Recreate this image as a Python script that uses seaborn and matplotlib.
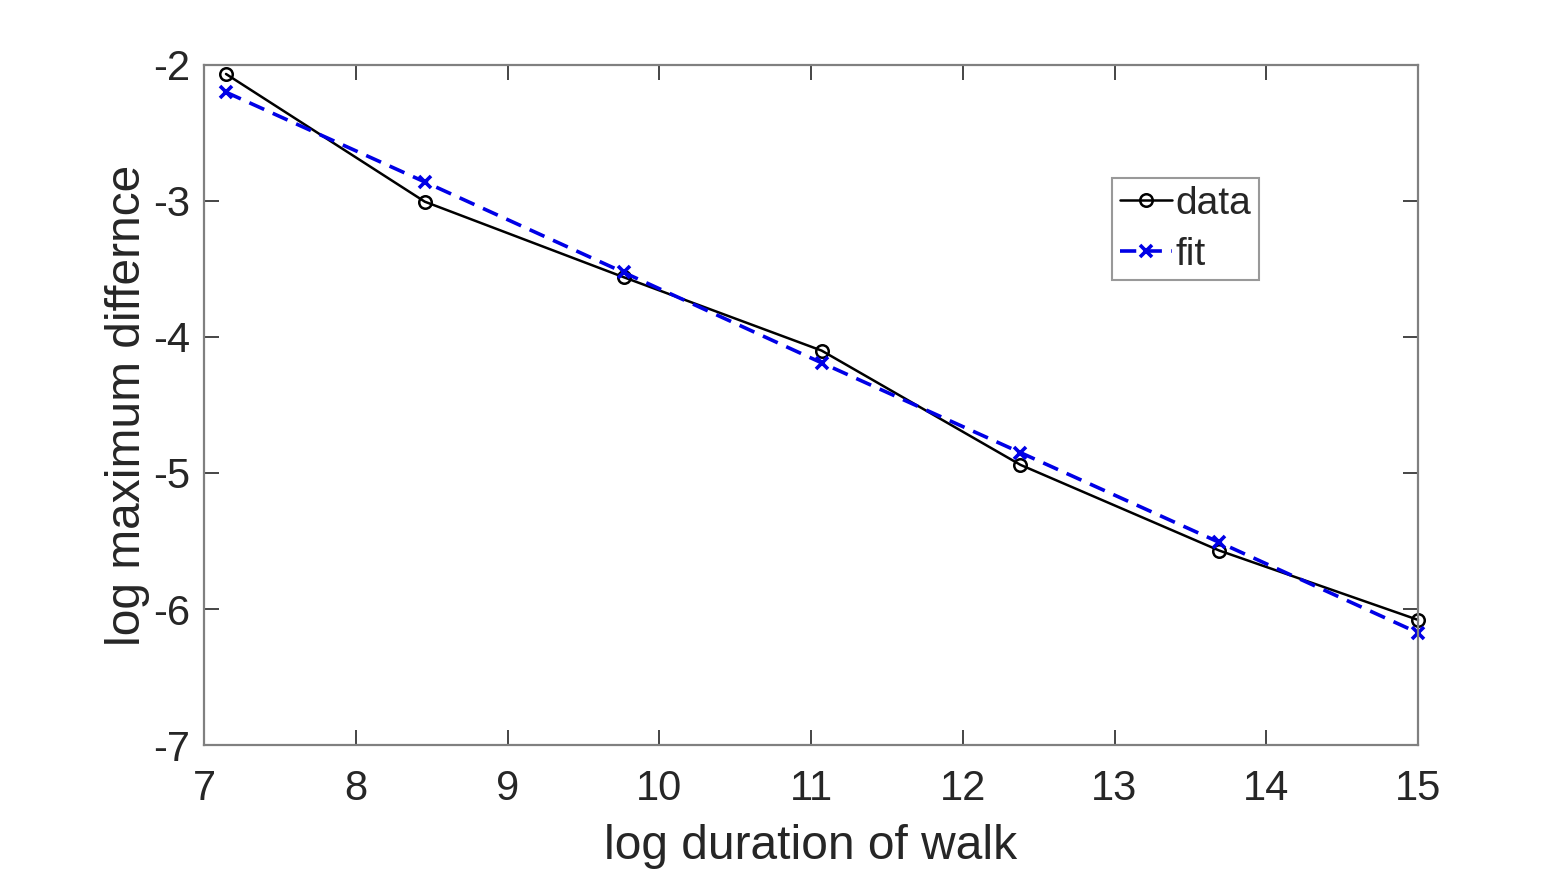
import matplotlib
matplotlib.use("Agg")
import matplotlib.pyplot as plt
import seaborn as sns
import pandas as pd
import numpy as np

x_vals = [7.145, 8.455, 9.765, 11.07, 12.38, 13.69, 15.0]
data_vals = [-2.066, -3.005, -3.56, -4.10, -4.94, -5.57, -6.08]
fit_vals = [-2.20, -2.86, -3.525, -4.19, -4.85, -5.51, -6.175]
x_ticks = [7, 8, 9, 10, 11, 12, 13, 14, 15]
y_ticks = [-7, -6, -5, -4, -3, -2]

sns.set_theme(style="white")
plt.rcParams['font.family'] = ['Liberation Sans', 'DejaVu Sans']
plt.rcParams['axes.unicode_minus'] = False

df = pd.DataFrame({"x": x_vals, "data": data_vals, "fit": fit_vals})

fig = plt.figure(figsize=(15.67, 8.71), dpi=100)
ax = fig.add_axes([204/1567, 1-745/871, (1418-204)/1567, (745-65)/871])

sns.lineplot(data=df, x="x", y="data", ax=ax, color="black", lw=1.8,
             marker="o", markersize=9, markerfacecolor="none",
             markeredgecolor="black", markeredgewidth=1.8, label="data",
             clip_on=False)
sns.lineplot(data=df, x="x", y="fit", ax=ax, color="#0000E6", lw=2.6,
             linestyle=(0, (4.5, 2.6)), marker="x", markersize=9,
             markeredgewidth=2.6, markeredgecolor="#0000E6", label="fit",
             clip_on=False)

ax.set_xlim(7, 15)
ax.set_ylim(-7, -2)
ax.set_xticks(x_ticks)
ax.set_yticks(y_ticks)
ax.set_xticklabels([str(t) for t in x_ticks])
ax.set_yticklabels([str(t) for t in y_ticks])
ax.tick_params(direction="in", length=11, width=1.2, color="#262626",
               labelsize=30, labelcolor="#262626", top=True, right=True,
               bottom=True, left=True)
ax.tick_params(axis="x", pad=17)
ax.tick_params(axis="y", pad=10)
for s in ax.spines.values():
    s.set_color("#808080")
    s.set_linewidth(1.6)
    s.set_visible(True)

ax.set_xlabel("log duration of walk", fontsize=34.5, color="#262626", labelpad=11)
ax.set_ylabel("log maximum differnce", fontsize=34.5, color="#262626", labelpad=2)

leg = ax.legend(loc="upper left", bbox_to_anchor=((1112-204)/1214, 1-(178-65)/680),
                fontsize=28, frameon=True, fancybox=False, handlelength=1.34,
                handletextpad=0.1, borderpad=0.2, labelspacing=0.38, borderaxespad=0)
leg.get_frame().set_edgecolor("#808080")
leg.get_frame().set_linewidth(1.5)

fig.savefig("out.png", dpi=100)
